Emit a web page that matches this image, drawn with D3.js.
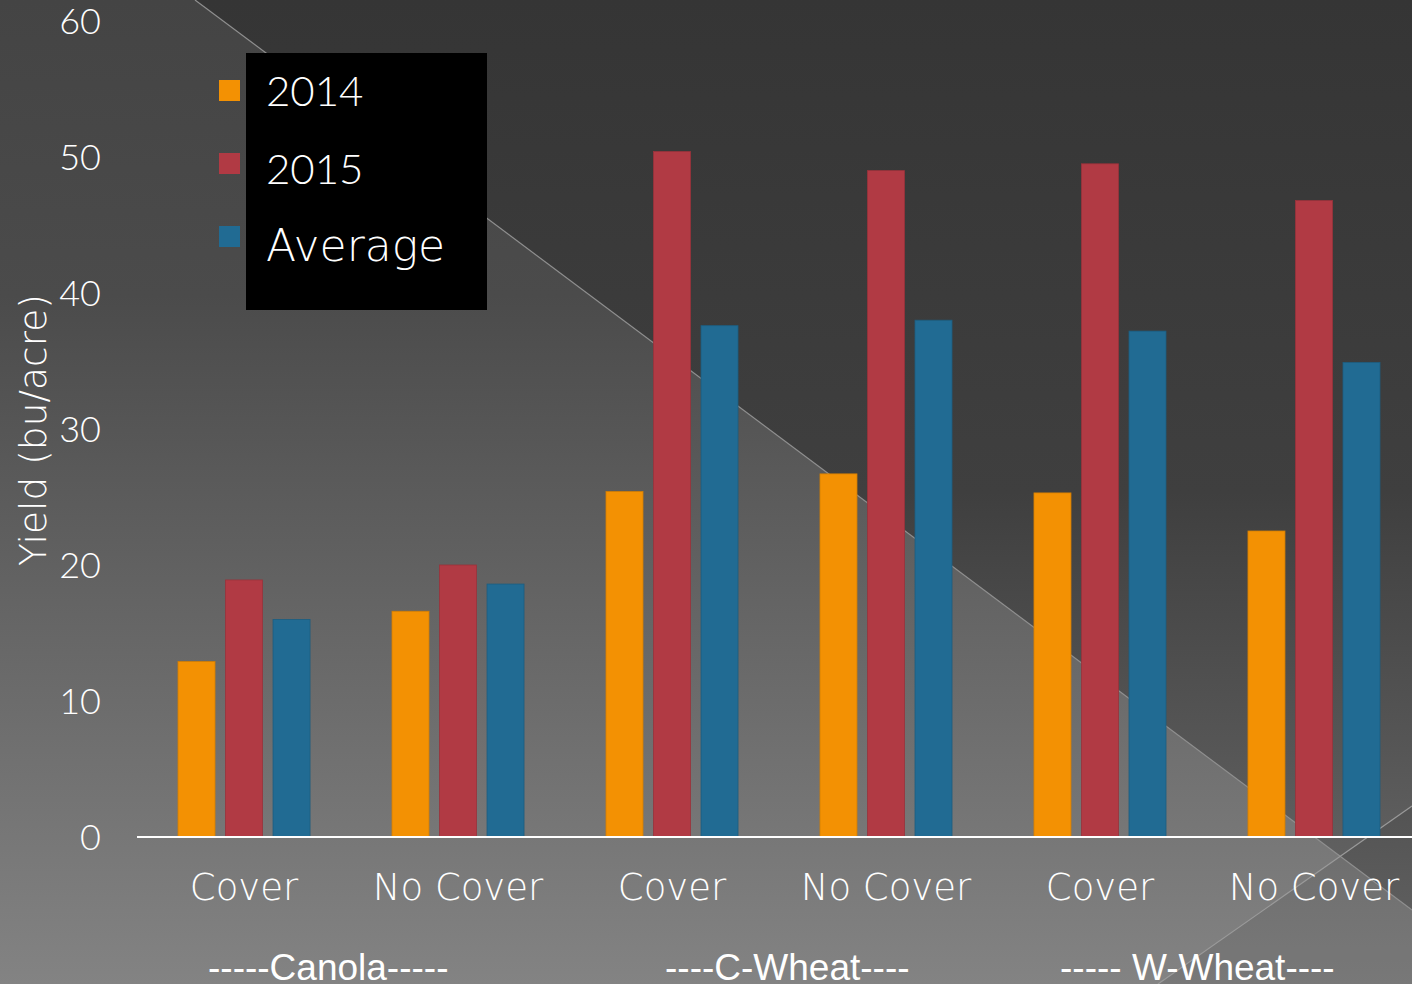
<!DOCTYPE html>
<html><head><meta charset="utf-8">
<script src="https://cdn.jsdelivr.net/npm/d3@7"></script>
<style>
html,body{margin:0;padding:0;background:#3a3a3a;overflow:hidden;}
svg{display:block;}
</style></head>
<body>
<svg id="chart" width="1412" height="984"></svg>
<script>
// ---- data ----
const categories = ["Cover", "No Cover", "Cover", "No Cover", "Cover", "No Cover"];
const groupLabels = ["-----Canola-----", "----C-Wheat----", "----- W-Wheat----"];
const seriesNames = ["2014", "2015", "Average"];
const values2014 = [12.9, 16.6, 25.4, 26.7, 25.3, 22.5];
const values2015 = [18.9, 20.0, 50.4, 49.0, 49.5, 46.8];
const valuesAvg  = [16.0, 18.6, 37.6, 38.0, 37.2, 34.9];
const yTicks = [0, 10, 20, 30, 40, 50, 60];
const yTitle = "Yield (bu/acre)";

const seriesColors = ["#F39103", "#B13A44", "#216B93"];
const seriesValues = [values2014, values2015, valuesAvg];

const W = 1412, H = 984;
const svg = d3.select("#chart");
const defs = svg.append("defs");

// ---- background ----
const gTop = defs.append("linearGradient").attr("id", "gTop").attr("gradientUnits", "userSpaceOnUse")
  .attr("x1", 0).attr("y1", 0).attr("x2", 0).attr("y2", H);
[[0, "#353535"], [0.5, "#3f3f3f"], [0.75, "#555555"], [1, "#6c6c6c"]].forEach(s => gTop.append("stop").attr("offset", s[0]).attr("stop-color", s[1]));
const gBot = defs.append("linearGradient").attr("id", "gBot").attr("gradientUnits", "userSpaceOnUse")
  .attr("x1", 0).attr("y1", 0).attr("x2", 0).attr("y2", H);
[[0, "#444444"], [0.3, "#4b4b4b"], [0.6, "#636363"], [1, "#838383"]].forEach(s => gBot.append("stop").attr("offset", s[0]).attr("stop-color", s[1]));

const bg = svg.append("g");
bg.append("rect").attr("width", W).attr("height", H).attr("fill", "url(#gTop)");
bg.append("path").attr("d", `M0,0 L195,0 L${W},910 L${W},${H} L0,${H} Z`).attr("fill", "url(#gBot)");
bg.append("path").attr("d", `M1158,${H} L${W},806 L${W},${H} Z`).attr("fill", "#000").attr("opacity", 0.08);
bg.append("line").attr("x1", 195).attr("y1", 0).attr("x2", W).attr("y2", 910).attr("stroke", "#8f8f8f").attr("stroke-width", 1.2);
bg.append("line").attr("x1", 1158).attr("y1", H).attr("x2", W).attr("y2", 806).attr("stroke", "#9a9a9a").attr("stroke-width", 1.2);

// ---- scales ----
const x0 = d3.scaleBand().domain(d3.range(categories.length)).range([137, 1421]).paddingInner(0.383).paddingOuter(0.1916);
const x1 = d3.scaleBand().domain(seriesNames).range([0, x0.bandwidth()]).paddingInner(0.221);
const y = d3.scaleLinear().domain([0, 60]).range([837, 21]);

const fontNum = "'Century Gothic','Lato',sans-serif";
const fontWord = "'Century Gothic','DejaVu Sans',sans-serif";

// ---- bars ----
const bars = svg.append("g");
categories.forEach((c, i) => {
  seriesNames.forEach((s, j) => {
    const v = seriesValues[j][i];
    bars.append("rect")
      .attr("x", x0(i) + x1(s))
      .attr("y", y(v))
      .attr("width", x1.bandwidth())
      .attr("height", y(0) - y(v))
      .attr("fill", seriesColors[j])
      .attr("stroke", d3.color(seriesColors[j]).darker(0.4))
      .attr("stroke-width", 0.8);
  });
});

// ---- axis baseline ----
svg.append("line").attr("x1", 137).attr("x2", W).attr("y1", y(0)).attr("y2", y(0))
  .attr("stroke", "#ffffff").attr("stroke-width", 2);

// ---- y tick labels ----
const yAxis = d3.axisLeft(y).tickValues(yTicks).tickSize(0).tickPadding(0);
const yg = svg.append("g").attr("transform", "translate(101,0)").call(yAxis);
yg.select(".domain").remove();
yg.selectAll("text").attr("fill", "#fff").style("font-family", fontNum).style("font-weight", 300)
  .style("font-size", "36px").attr("dy", "0.36em");

// ---- y title ----
svg.append("text").attr("transform", "translate(46,430) rotate(-90)")
  .attr("text-anchor", "middle").attr("fill", "#fff")
  .style("font-family", fontWord).style("font-weight", 200).style("font-size", "37.5px").text(yTitle);

// ---- category labels ----
const xAxis = d3.axisBottom(x0).tickSize(0).tickPadding(0).tickFormat(i => categories[i]);
const xg = svg.append("g").attr("transform", `translate(0,${y(0)})`).call(xAxis);
xg.select(".domain").remove();
xg.selectAll("text").attr("fill", "#fff").attr("y", 63).attr("dy", 0)
  .style("font-family", fontWord).style("font-weight", 200).style("font-size", "37px");

// ---- group labels ----
const groupX = [208, 665, 1060];
groupLabels.forEach((g, k) => {
  svg.append("text").attr("x", groupX[k]).attr("y", 980).attr("fill", "#fff")
    .style("font-family", "'Liberation Sans',Arial,sans-serif").style("font-size", "37px").text(g);
});

// ---- legend ----
const leg = svg.append("g");
leg.append("rect").attr("x", 246).attr("y", 53).attr("width", 241).attr("height", 257).attr("fill", "#000");
seriesNames.forEach((s, j) => {
  const cy = 90.5 + j * 73;
  leg.append("rect").attr("x", 219).attr("y", cy - 10.5).attr("width", 21).attr("height", 21).attr("fill", seriesColors[j]);
  const isNum = /^\d+$/.test(s);
  leg.append("text").attr("x", 266).attr("y", 106 + j * 77.5).attr("fill", "#fff")
    .style("font-family", isNum ? fontNum : fontWord)
    .style("font-weight", isNum ? 300 : 200)
    .style("font-size", isNum ? "42px" : "44px").text(s);
});
</script>
</body></html>
